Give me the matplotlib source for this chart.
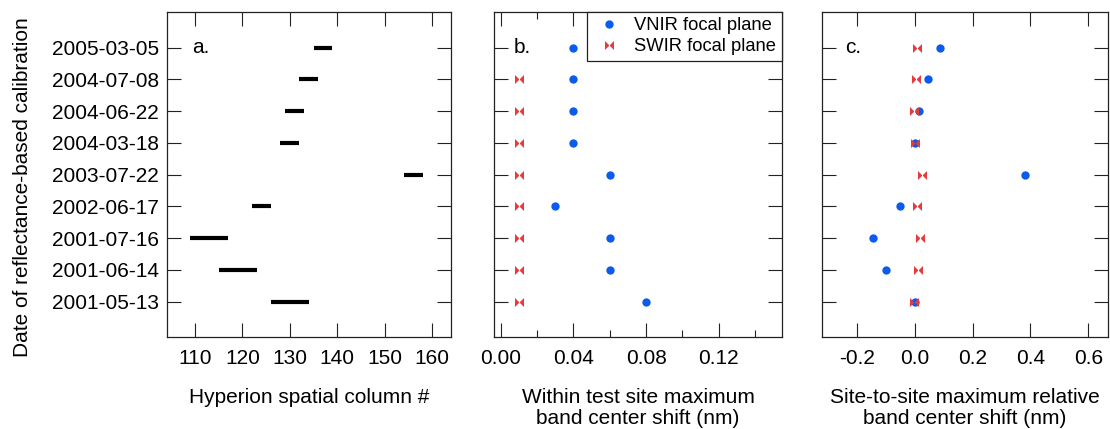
import matplotlib
matplotlib.use("Agg")
import matplotlib.pyplot as plt
import numpy as np
from matplotlib.path import Path
from matplotlib.ticker import FixedLocator

plt.rcParams['font.family'] = ['Liberation Sans', 'DejaVu Sans']

# ---------------- data ----------------
dates = ["2001-05-13", "2001-06-14", "2001-07-16", "2002-06-17", "2003-07-22",
         "2004-03-18", "2004-06-22", "2004-07-08", "2005-03-05"]
col_start = [126, 115, 109, 122, 154, 128, 129, 132, 135]
col_end = [134, 123, 117, 126, 158, 132, 133, 136, 139]

vnir_within = [0.08, 0.06, 0.06, 0.03, 0.06, 0.04, 0.04, 0.04, 0.04]
swir_within = [0.01, 0.01, 0.01, 0.01, 0.01, 0.01, 0.01, 0.01, np.nan]

vnir_site = [0.0, -0.098, -0.143, -0.052, 0.380, 0.0, 0.014, 0.046, 0.086]
swir_site = [-0.002, 0.013, 0.020, 0.009, 0.027, 0.001, -0.002, 0.006, 0.008]

a_ticks = [110, 120, 130, 140, 150, 160]
b_ticks = [0.0, 0.04, 0.08, 0.12]
b_ticklabels = ["0.00", "0.04", "0.08", "0.12"]
b_minor = [0.02, 0.06, 0.10, 0.14]
c_ticks = [-0.2, 0.0, 0.2, 0.4, 0.6]
c_ticklabels = ["-0.2", "0.0", "0.2", "0.4", "0.6"]

xlabels = ["Hyperion spatial column #",
           "Within test site maximum\nband center shift (nm)",
           "Site-to-site maximum relative\nband center shift (nm)"]
ylabel = "Date of reflectance-based calibration"
panel_tags = ["a.", "b.", "c."]
legend_names = ["VNIR focal plane", "SWIR focal plane"]

BLUE = "#0b5cee"
RED = "#e23c3c"

bowtie = Path([(-1, -1), (-1, 1), (0, 0), (-1, -1),
               (1, -1), (1, 1), (0, 0), (1, -1)],
              [Path.MOVETO, Path.LINETO, Path.LINETO, Path.CLOSEPOLY,
               Path.MOVETO, Path.LINETO, Path.LINETO, Path.CLOSEPOLY])

fig = plt.figure(figsize=(11.10, 4.29), dpi=100)
H = 429.0
W = 1110.0
bottom = (H - 337) / H
height = (337 - 12) / H
axa = fig.add_axes([167 / W, bottom, (451 - 167) / W, height])
axb = fig.add_axes([494 / W, bottom, (782 - 494) / W, height])
axc = fig.add_axes([821.7 / W, bottom, (1107.7 - 821.7) / W, height])

ypos = np.arange(len(dates))
FS = 15

for ax in (axa, axb, axc):
    ax.set_ylim(-1.11, 9.12)
    ax.set_yticks(ypos)
    ax.tick_params(axis='both', which='major', direction='in', length=10, width=0.8,
                   top=True, right=True, labelsize=FS, color='#222222')
    ax.tick_params(axis='x', which='major', pad=9)
    ax.tick_params(axis='y', which='major', pad=6)
    ax.tick_params(axis='both', which='minor', direction='in', length=5, width=0.8,
                   top=True, right=True, color='#222222')
    for s in ax.spines.values():
        s.set_linewidth(0.9)
        s.set_color('#222222')

axa.set_yticklabels(dates)
axb.set_yticklabels([])
axc.set_yticklabels([])

# panel a
axa.hlines(ypos, col_start, col_end, colors='black', linewidth=3.0, capstyle='butt')
axa.set_xlim(104.1, 164.0)
axa.set_xticks(a_ticks)

# panel b
axb.plot(vnir_within, ypos, linestyle='none', marker='o', markersize=6,
         color=BLUE, markeredgewidth=0, label=legend_names[0])
axb.plot(swir_within, ypos, linestyle='none', marker=bowtie, markersize=6.5,
         color=RED, markeredgewidth=0, label=legend_names[1])
axb.set_xlim(-0.0037, 0.1548)
axb.xaxis.set_major_locator(FixedLocator(b_ticks))
axb.xaxis.set_minor_locator(FixedLocator(b_minor))
axb.set_xticklabels(b_ticklabels)
leg = axb.legend(loc='upper right', fontsize=13.2, frameon=True, fancybox=False,
                 framealpha=1, edgecolor='#222222', borderaxespad=0.0,
                 handlelength=1.8, handletextpad=0.5, borderpad=0.3,
                 labelspacing=0.2)
leg.get_frame().set_linewidth(0.9)

# panel c
axc.plot(vnir_site, ypos, linestyle='none', marker='o', markersize=6,
         color=BLUE, markeredgewidth=0)
axc.plot(swir_site, ypos, linestyle='none', marker=bowtie, markersize=6.5,
         color=RED, markeredgewidth=0)
axc.set_xlim(-0.321, 0.667)
axc.set_xticks(c_ticks)
axc.set_xticklabels(c_ticklabels)

tag_x = [0.087, 0.067, 0.081]
for ax, tag, tx, xl in zip((axa, axb, axc), panel_tags, tag_x, xlabels):
    ax.text(tx, 8, tag, transform=ax.get_yaxis_transform(), fontsize=FS,
            ha='left', va='center')
    ax.set_xlabel(xl, fontsize=FS, labelpad=14, linespacing=1.12)

axa.set_ylabel(ylabel, fontsize=FS)
axa.yaxis.set_label_coords(-0.475, 0.46)

fig.savefig("out.png", dpi=100)
